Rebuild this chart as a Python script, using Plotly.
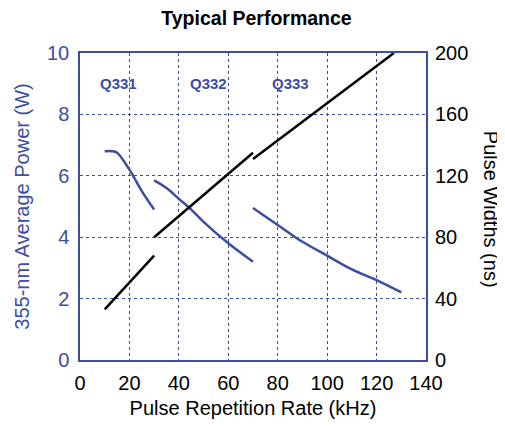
import plotly.graph_objects as go

# Average power (W) for each laser model vs. repetition rate (kHz)
q331_x = [10, 13, 15, 20, 25, 30]
q331_y = [6.8, 6.8, 6.75, 6.2, 5.5, 4.9]
q332_x = [30, 35, 40, 45, 50, 60, 70]
q332_y = [5.85, 5.6, 5.25, 4.9, 4.5, 3.8, 3.2]
q333_x = [70, 80, 90, 100, 110, 120, 130]
q333_y = [4.95, 4.4, 3.85, 3.4, 2.95, 2.6, 2.2]

# Pulse widths (ns)
pw1_x = [10, 30]
pw1_y = [33, 68]
pw2_x = [30, 70]
pw2_y = [80, 135]
pw3_x = [70, 127]
pw3_y = [131, 200]

model_labels = ["Q331", "Q332", "Q333"]
model_label_x = [15.5, 52, 85]
model_label_y = [9.0, 9.0, 9.0]

BLUE = "#3c4ea0"
FONT = "Liberation Sans, Arial, sans-serif"
FS = 20

fig = go.Figure()
for xs, ys in [(q331_x, q331_y), (q332_x, q332_y), (q333_x, q333_y)]:
    fig.add_trace(go.Scatter(x=xs, y=ys, mode="lines", line=dict(color=BLUE, width=2.5, shape="spline"),
                             showlegend=False))
for xs, ys in [(pw1_x, pw1_y), (pw2_x, pw2_y), (pw3_x, pw3_y)]:
    fig.add_trace(go.Scatter(x=xs, y=ys, mode="lines", line=dict(color="black", width=2.5),
                             yaxis="y2", showlegend=False))

for t, xx, yy in zip(model_labels, model_label_x, model_label_y):
    fig.add_annotation(x=xx, y=yy, text=f"<b>{t}</b>", showarrow=False,
                       font=dict(color=BLUE, size=15, family=FONT))

fig.add_annotation(xref="paper", yref="paper", x=1.19, y=0.49, xanchor="center", yanchor="middle",
                   text="Pulse Widths (ns)", textangle=90, showarrow=False,
                   font=dict(color="black", size=FS, family=FONT))

fig.update_layout(
    width=497, height=419,
    margin=dict(l=72, r=79, t=45, b=67),
    paper_bgcolor="white", plot_bgcolor="white",
    font=dict(family=FONT, size=FS),
    title=dict(text="<b>Typical Performance</b>", x=0.5, xanchor="center", y=0.975, yanchor="middle",
               font=dict(size=19.5, color="black", family=FONT)),
    xaxis=dict(range=[0, 140], dtick=20, showgrid=True, gridcolor=BLUE, griddash="dot", gridwidth=1,
               showline=True, linecolor=BLUE, linewidth=1.5, mirror=True, zeroline=False,
               tickfont=dict(color="black", size=FS), ticks="", ticklabelstandoff=4, automargin=False,
               title=dict(text="Pulse Repetition Rate (kHz)", font=dict(color="black", size=FS), standoff=8)),
    yaxis=dict(range=[0, 10], dtick=2, showgrid=True, gridcolor=BLUE, griddash="dot", gridwidth=1,
               showline=True, linecolor=BLUE, linewidth=1.5, mirror=True, zeroline=False,
               tickfont=dict(color=BLUE, size=FS), ticks="", ticklabelstandoff=5, automargin=False,
               title=dict(text="355-nm Average Power (W)", font=dict(color=BLUE, size=FS), standoff=12)),
    yaxis2=dict(range=[0, 200], dtick=40, overlaying="y", side="right", showgrid=False,
                showline=False, zeroline=False, tickfont=dict(color="black", size=FS), ticks="",
                ticklabelstandoff=8, automargin=False),
)

fig.write_html("out.html")
